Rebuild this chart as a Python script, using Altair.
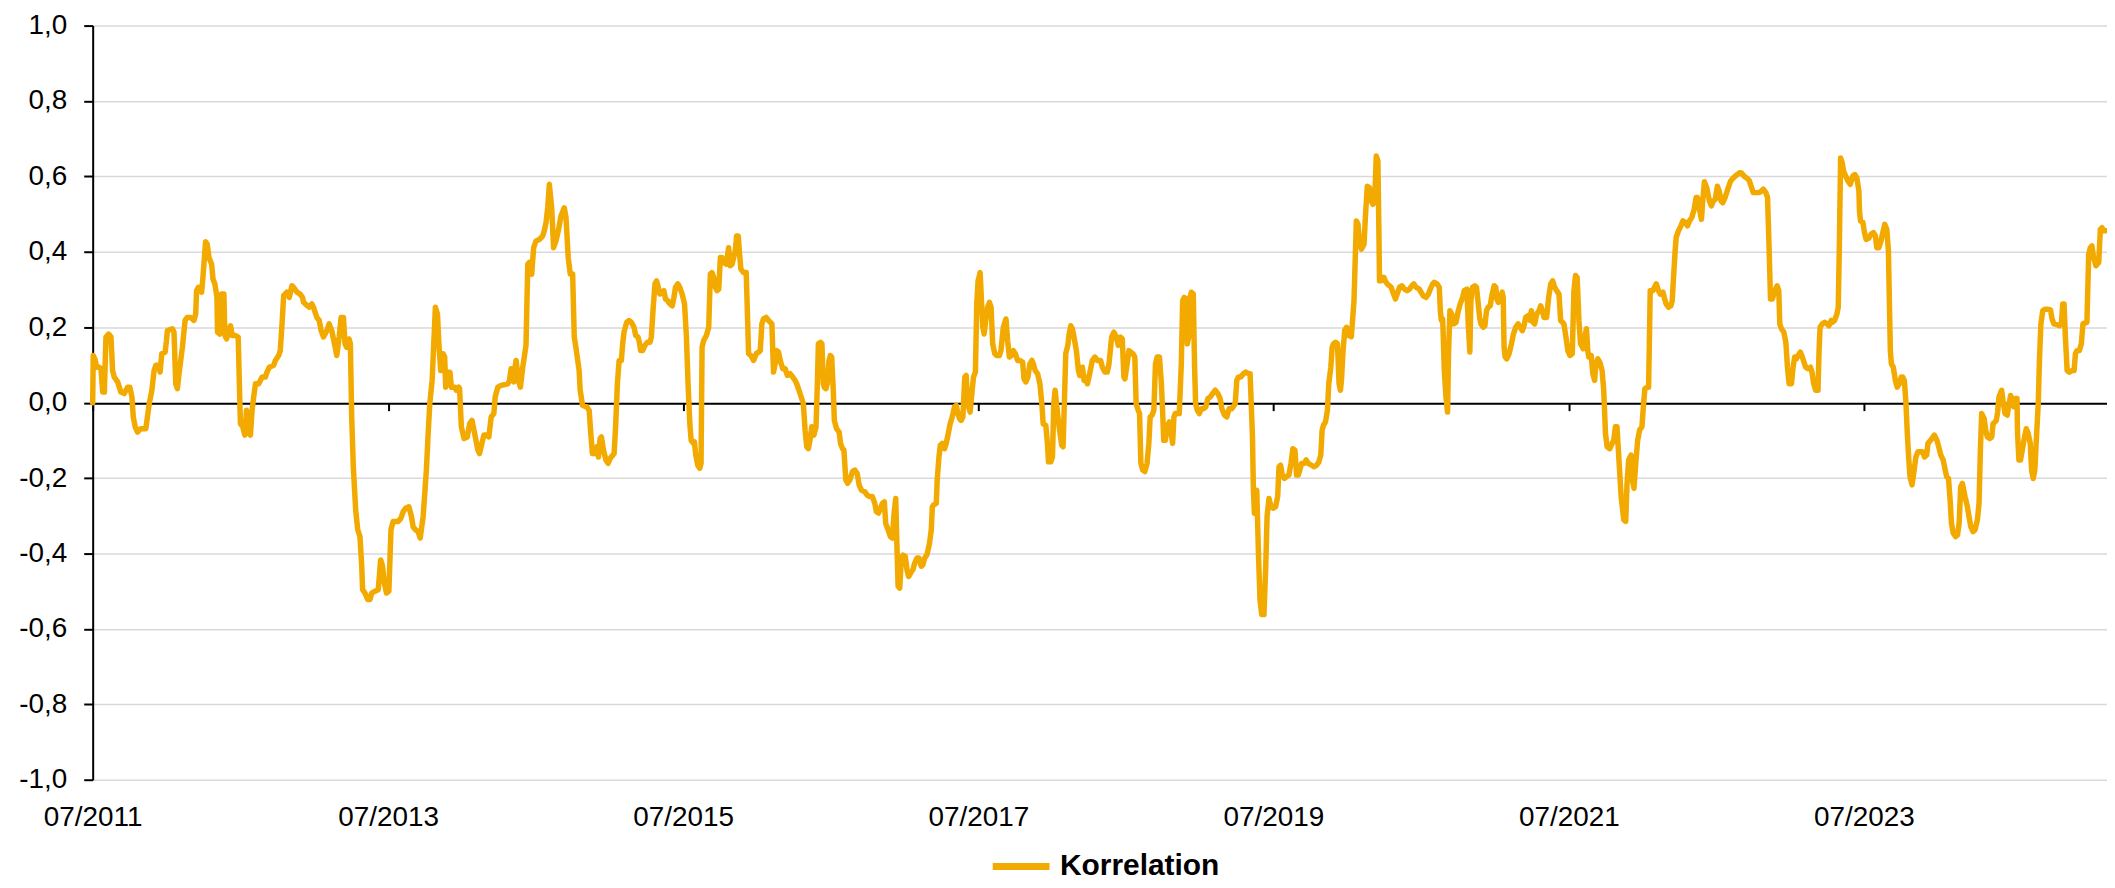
import altair as alt
import pandas as pd

# (decimal year, correlation), one list per period
seg_2011_2013 = [
    (2011.500, 0.000), (2011.504, 0.125), (2011.518, 0.112), (2011.527, 0.094), (2011.545, 0.094),
    (2011.556, 0.090), (2011.568, 0.028), (2011.579, 0.028), (2011.590, 0.174), (2011.608, 0.182),
    (2011.624, 0.174), (2011.635, 0.085), (2011.646, 0.068), (2011.669, 0.055), (2011.691, 0.028),
    (2011.714, 0.024), (2011.736, 0.041), (2011.752, 0.041), (2011.766, 0.015), (2011.775, -0.038),
    (2011.788, -0.064), (2011.804, -0.078), (2011.826, -0.069), (2011.860, -0.069), (2011.871, -0.038),
    (2011.883, -0.003), (2011.901, 0.033), (2011.916, 0.085), (2011.928, 0.099), (2011.946, 0.099),
    (2011.957, 0.081), (2011.968, 0.130), (2011.991, 0.134), (2012.000, 0.165), (2012.006, 0.191),
    (2012.040, 0.196), (2012.051, 0.187), (2012.063, 0.050), (2012.074, 0.037), (2012.085, 0.077),
    (2012.108, 0.147), (2012.126, 0.218), (2012.141, 0.226), (2012.164, 0.226), (2012.186, 0.218),
    (2012.198, 0.235), (2012.204, 0.297), (2012.216, 0.306), (2012.238, 0.293), (2012.247, 0.332),
    (2012.265, 0.427), (2012.276, 0.420), (2012.288, 0.385), (2012.306, 0.367), (2012.315, 0.328),
    (2012.328, 0.315), (2012.342, 0.279), (2012.346, 0.187), (2012.360, 0.182), (2012.373, 0.288),
    (2012.389, 0.288), (2012.396, 0.178), (2012.407, 0.169), (2012.423, 0.191), (2012.434, 0.204),
    (2012.445, 0.178), (2012.468, 0.178), (2012.486, 0.174), (2012.495, 0.033), (2012.501, -0.056),
    (2012.517, -0.064), (2012.531, -0.086), (2012.542, -0.020), (2012.551, -0.038), (2012.562, -0.082),
    (2012.569, -0.086), (2012.580, -0.020), (2012.591, 0.015), (2012.603, 0.050), (2012.625, 0.050),
    (2012.648, 0.068), (2012.670, 0.068), (2012.681, 0.081), (2012.697, 0.094), (2012.726, 0.099),
    (2012.738, 0.112), (2012.760, 0.125), (2012.771, 0.138), (2012.783, 0.209), (2012.794, 0.284),
    (2012.816, 0.293), (2012.832, 0.279), (2012.850, 0.310), (2012.861, 0.306), (2012.884, 0.293),
    (2012.906, 0.288), (2012.922, 0.279), (2012.929, 0.266), (2012.940, 0.262), (2012.967, 0.253),
    (2012.985, 0.262), (2012.996, 0.253), (2013.019, 0.226), (2013.035, 0.218), (2013.048, 0.191),
    (2013.064, 0.174), (2013.086, 0.191), (2013.102, 0.209), (2013.120, 0.191), (2013.143, 0.147),
    (2013.154, 0.125),
]

seg_2013_2014 = [
    (2013.170, 0.174), (2013.183, 0.226), (2013.199, 0.226), (2013.210, 0.156), (2013.221, 0.147),
    (2013.237, 0.169), (2013.246, 0.156), (2013.255, -0.038), (2013.266, -0.170), (2013.282, -0.285),
    (2013.296, -0.337), (2013.311, -0.355), (2013.323, -0.434), (2013.329, -0.496), (2013.345, -0.505),
    (2013.363, -0.522), (2013.379, -0.522), (2013.390, -0.505), (2013.413, -0.500), (2013.435, -0.496),
    (2013.451, -0.417), (2013.464, -0.434), (2013.476, -0.478), (2013.491, -0.505), (2013.507, -0.500),
    (2013.521, -0.337), (2013.536, -0.315), (2013.570, -0.315), (2013.588, -0.307), (2013.604, -0.289),
    (2013.620, -0.280), (2013.642, -0.276), (2013.660, -0.302), (2013.671, -0.329), (2013.687, -0.337),
    (2013.705, -0.342), (2013.719, -0.359), (2013.739, -0.302), (2013.750, -0.241), (2013.761, -0.179),
    (2013.773, -0.082), (2013.784, -0.003), (2013.800, 0.059), (2013.813, 0.174), (2013.822, 0.253),
    (2013.836, 0.235), (2013.847, 0.147), (2013.858, 0.085), (2013.874, 0.130), (2013.885, 0.121),
    (2013.892, 0.041), (2013.908, 0.081), (2013.921, 0.081), (2013.930, 0.041), (2013.953, 0.041),
    (2013.964, 0.033), (2013.980, 0.041), (2013.986, 0.037), (2013.998, -0.064), (2014.016, -0.095),
    (2014.038, -0.091), (2014.054, -0.056), (2014.070, -0.047), (2014.088, -0.082), (2014.110, -0.126),
    (2014.121, -0.135), (2014.137, -0.108), (2014.151, -0.086), (2014.173, -0.086), (2014.184, -0.091),
    (2014.200, -0.038), (2014.218, -0.029), (2014.227, 0.015), (2014.245, 0.041), (2014.268, 0.046),
    (2014.313, 0.050), (2014.324, 0.059), (2014.335, 0.090), (2014.342, 0.081), (2014.353, 0.055),
    (2014.362, 0.094), (2014.369, 0.112), (2014.385, 0.059), (2014.398, 0.041), (2014.414, 0.094),
    (2014.436, 0.152), (2014.448, 0.367), (2014.459, 0.372), (2014.466, 0.350), (2014.475, 0.341),
    (2014.481, 0.376), (2014.488, 0.411), (2014.504, 0.429), (2014.527, 0.433), (2014.549, 0.442),
    (2014.560, 0.456), (2014.572, 0.478), (2014.583, 0.517), (2014.594, 0.579), (2014.610, 0.517),
    (2014.623, 0.411), (2014.639, 0.429), (2014.655, 0.456), (2014.673, 0.495), (2014.695, 0.517),
    (2014.707, 0.491), (2014.722, 0.385), (2014.736, 0.341), (2014.752, 0.341), (2014.763, 0.174),
    (2014.774, 0.147), (2014.796, 0.085), (2014.803, 0.033), (2014.819, -0.007), (2014.842, -0.011),
]

seg_2014_2016 = [
    (2014.848, -0.011), (2014.864, -0.020), (2014.875, -0.082), (2014.886, -0.135), (2014.902, -0.135),
    (2014.916, -0.117), (2014.927, -0.144), (2014.938, -0.095), (2014.947, -0.091), (2014.961, -0.126),
    (2014.977, -0.152), (2014.992, -0.161), (2015.006, -0.148), (2015.033, -0.135), (2015.044, -0.056),
    (2015.055, 0.050), (2015.067, 0.112), (2015.082, 0.112), (2015.091, 0.156), (2015.100, 0.187),
    (2015.118, 0.213), (2015.134, 0.218), (2015.150, 0.213), (2015.168, 0.200), (2015.179, 0.178),
    (2015.195, 0.174), (2015.204, 0.160), (2015.213, 0.138), (2015.226, 0.138), (2015.242, 0.152),
    (2015.258, 0.160), (2015.276, 0.160), (2015.285, 0.174), (2015.298, 0.253), (2015.310, 0.315),
    (2015.321, 0.323), (2015.332, 0.306), (2015.343, 0.288), (2015.359, 0.293), (2015.370, 0.297),
    (2015.381, 0.275), (2015.397, 0.270), (2015.411, 0.262), (2015.427, 0.257), (2015.438, 0.279),
    (2015.449, 0.306), (2015.465, 0.315), (2015.478, 0.306), (2015.494, 0.288), (2015.510, 0.262),
    (2015.523, 0.174), (2015.534, 0.050), (2015.546, -0.056), (2015.555, -0.100), (2015.568, -0.107),
    (2015.577, -0.104), (2015.586, -0.139), (2015.600, -0.166), (2015.613, -0.174), (2015.622, -0.161),
    (2015.629, 0.147), (2015.640, 0.165), (2015.658, 0.178), (2015.674, 0.200), (2015.685, 0.341),
    (2015.696, 0.345), (2015.708, 0.332), (2015.719, 0.306), (2015.730, 0.297), (2015.742, 0.301),
    (2015.753, 0.385), (2015.764, 0.385), (2015.775, 0.372), (2015.793, 0.367), (2015.809, 0.411),
    (2015.820, 0.363), (2015.832, 0.367), (2015.843, 0.385), (2015.854, 0.403), (2015.863, 0.442),
    (2015.874, 0.442), (2015.883, 0.394), (2015.892, 0.354), (2015.910, 0.345), (2015.928, 0.345),
    (2015.937, 0.226), (2015.944, 0.130), (2015.960, 0.125), (2015.978, 0.112), (2015.996, 0.130),
    (2016.012, 0.134), (2016.023, 0.138), (2016.034, 0.209), (2016.045, 0.222), (2016.063, 0.226),
    (2016.079, 0.218), (2016.102, 0.209), (2016.113, 0.081), (2016.124, 0.103), (2016.135, 0.138),
    (2016.147, 0.134), (2016.162, 0.107), (2016.176, 0.090), (2016.192, 0.090), (2016.207, 0.072),
    (2016.225, 0.077), (2016.243, 0.068), (2016.259, 0.059), (2016.270, 0.050), (2016.282, 0.037),
    (2016.297, 0.019), (2016.315, -0.003), (2016.327, -0.073), (2016.338, -0.117), (2016.349, -0.122),
    (2016.360, -0.100), (2016.372, -0.064), (2016.387, -0.086), (2016.401, -0.064), (2016.410, 0.050),
    (2016.417, 0.156), (2016.432, 0.160), (2016.441, 0.156), (2016.450, 0.050), (2016.457, 0.041),
    (2016.468, 0.037), (2016.477, 0.050), (2016.489, 0.112), (2016.498, 0.125), (2016.507, 0.121),
    (2016.518, 0.033), (2016.525, -0.047),
]

seg_2016_2018 = [
    (2016.540, -0.069), (2016.558, -0.078), (2016.567, -0.108), (2016.581, -0.122), (2016.590, -0.126),
    (2016.603, -0.205), (2016.615, -0.214), (2016.630, -0.205), (2016.648, -0.183), (2016.664, -0.179),
    (2016.680, -0.188), (2016.693, -0.218), (2016.709, -0.232), (2016.732, -0.236), (2016.747, -0.245),
    (2016.765, -0.249), (2016.783, -0.249), (2016.799, -0.267), (2016.810, -0.289), (2016.824, -0.293),
    (2016.837, -0.280), (2016.851, -0.267), (2016.864, -0.263), (2016.873, -0.320), (2016.889, -0.337),
    (2016.905, -0.355), (2016.918, -0.359), (2016.930, -0.293), (2016.941, -0.254), (2016.950, -0.390),
    (2016.957, -0.487), (2016.968, -0.492), (2016.979, -0.417), (2016.990, -0.404), (2017.006, -0.408),
    (2017.017, -0.443), (2017.029, -0.461), (2017.047, -0.448), (2017.058, -0.443), (2017.069, -0.426),
    (2017.085, -0.412), (2017.098, -0.412), (2017.114, -0.434), (2017.125, -0.430), (2017.137, -0.412),
    (2017.152, -0.404), (2017.170, -0.373), (2017.182, -0.337), (2017.189, -0.276), (2017.198, -0.271),
    (2017.216, -0.267), (2017.222, -0.205), (2017.234, -0.144), (2017.243, -0.113), (2017.256, -0.108),
    (2017.272, -0.122), (2017.283, -0.108), (2017.297, -0.082), (2017.310, -0.056), (2017.324, -0.038),
    (2017.339, -0.011), (2017.351, -0.007), (2017.362, -0.029), (2017.373, -0.042), (2017.384, -0.047),
    (2017.396, -0.038), (2017.409, 0.068), (2017.418, 0.072), (2017.429, -0.003), (2017.445, -0.025),
    (2017.459, 0.033), (2017.468, 0.068), (2017.481, 0.081), (2017.490, 0.262), (2017.499, 0.323),
    (2017.513, 0.345), (2017.522, 0.270), (2017.531, 0.200), (2017.540, 0.182), (2017.553, 0.226),
    (2017.564, 0.253), (2017.576, 0.266), (2017.587, 0.253), (2017.598, 0.156), (2017.612, 0.130),
    (2017.625, 0.125), (2017.643, 0.125), (2017.654, 0.138), (2017.670, 0.200), (2017.688, 0.222),
    (2017.699, 0.165), (2017.711, 0.121), (2017.724, 0.125), (2017.738, 0.138), (2017.751, 0.130),
    (2017.767, 0.112), (2017.783, 0.112), (2017.801, 0.107), (2017.810, 0.063), (2017.823, 0.055),
    (2017.837, 0.068), (2017.850, 0.103), (2017.864, 0.112), (2017.873, 0.103), (2017.886, 0.085),
    (2017.902, 0.077), (2017.918, 0.050), (2017.931, -0.003), (2017.940, -0.056), (2017.958, -0.060),
    (2017.969, -0.108), (2017.976, -0.157), (2017.992, -0.157), (2018.003, -0.144), (2018.012, -0.003),
    (2018.021, 0.033), (2018.030, -0.003), (2018.048, -0.064), (2018.066, -0.113), (2018.075, -0.117),
    (2018.084, 0.006), (2018.093, 0.130), (2018.107, 0.152), (2018.116, 0.182), (2018.127, 0.204),
    (2018.138, 0.196), (2018.149, 0.174), (2018.165, 0.138), (2018.179, 0.085), (2018.188, 0.072),
    (2018.206, 0.094), (2018.217, 0.059),
]

seg_2018_2019 = [
    (2018.224, 0.068), (2018.240, 0.050), (2018.255, 0.077), (2018.273, 0.112), (2018.291, 0.121),
    (2018.307, 0.112), (2018.329, 0.112), (2018.341, 0.094), (2018.359, 0.081), (2018.374, 0.081),
    (2018.386, 0.103), (2018.404, 0.174), (2018.419, 0.187), (2018.435, 0.174), (2018.449, 0.152),
    (2018.464, 0.174), (2018.476, 0.169), (2018.487, 0.068), (2018.494, 0.063), (2018.509, 0.103),
    (2018.521, 0.138), (2018.532, 0.134), (2018.548, 0.130), (2018.561, 0.121), (2018.570, -0.003),
    (2018.584, -0.020), (2018.593, -0.029), (2018.602, -0.161), (2018.615, -0.179), (2018.629, -0.183),
    (2018.644, -0.161), (2018.656, -0.108), (2018.665, -0.038), (2018.678, -0.033), (2018.690, -0.020),
    (2018.701, 0.103), (2018.712, 0.121), (2018.728, 0.121), (2018.741, 0.050), (2018.750, -0.029),
    (2018.757, -0.100), (2018.768, -0.100), (2018.779, -0.064), (2018.795, -0.051), (2018.808, -0.082),
    (2018.817, -0.108), (2018.826, -0.038), (2018.835, -0.029), (2018.862, -0.029), (2018.876, 0.103),
    (2018.885, 0.270), (2018.896, 0.279), (2018.908, 0.275), (2018.917, 0.156), (2018.926, 0.174),
    (2018.935, 0.279), (2018.944, 0.293), (2018.957, 0.288), (2018.966, 0.094), (2018.973, -0.003),
    (2018.984, -0.020), (2018.998, -0.029), (2019.011, -0.016), (2019.027, -0.016), (2019.042, -0.011),
    (2019.056, 0.011), (2019.072, 0.015), (2019.088, 0.024), (2019.106, 0.033), (2019.124, 0.024),
    (2019.139, 0.011), (2019.151, -0.016), (2019.169, -0.033), (2019.184, -0.038), (2019.200, -0.016),
    (2019.218, -0.016), (2019.241, -0.003), (2019.252, 0.059), (2019.263, 0.068), (2019.279, 0.068),
    (2019.297, 0.077), (2019.313, 0.081), (2019.331, 0.077), (2019.342, 0.077), (2019.349, 0.006),
    (2019.358, -0.091), (2019.364, -0.223), (2019.371, -0.293), (2019.380, -0.293), (2019.387, -0.232),
    (2019.398, -0.390), (2019.409, -0.522), (2019.421, -0.562), (2019.436, -0.562), (2019.448, -0.434),
    (2019.457, -0.302), (2019.470, -0.254), (2019.484, -0.276), (2019.499, -0.280), (2019.515, -0.276),
    (2019.529, -0.249), (2019.538, -0.170), (2019.549, -0.166), (2019.560, -0.192), (2019.574, -0.201),
    (2019.589, -0.196), (2019.605, -0.192), (2019.619, -0.161), (2019.632, -0.122), (2019.646, -0.126),
    (2019.657, -0.192), (2019.668, -0.192), (2019.679, -0.179), (2019.691, -0.161), (2019.709, -0.161),
    (2019.722, -0.152), (2019.736, -0.161), (2019.758, -0.166), (2019.776, -0.170), (2019.792, -0.166),
    (2019.808, -0.157), (2019.821, -0.139), (2019.830, -0.073), (2019.839, -0.060), (2019.853, -0.051),
    (2019.866, -0.020), (2019.875, 0.050), (2019.889, 0.094), (2019.898, 0.147), (2019.907, 0.156),
]

seg_2019_2021 = [
    (2019.920, 0.160), (2019.934, 0.156), (2019.945, 0.050), (2019.954, 0.033), (2019.961, 0.059),
    (2019.972, 0.138), (2019.983, 0.191), (2019.995, 0.200), (2020.010, 0.178), (2020.028, 0.175),
    (2020.046, 0.270), (2020.062, 0.482), (2020.073, 0.473), (2020.085, 0.420), (2020.096, 0.407),
    (2020.114, 0.420), (2020.123, 0.491), (2020.136, 0.574), (2020.152, 0.570), (2020.163, 0.535),
    (2020.174, 0.526), (2020.186, 0.535), (2020.197, 0.654), (2020.208, 0.641), (2020.215, 0.447),
    (2020.219, 0.323), (2020.231, 0.323), (2020.249, 0.332), (2020.258, 0.323), (2020.271, 0.315),
    (2020.287, 0.310), (2020.298, 0.306), (2020.314, 0.288), (2020.327, 0.275), (2020.343, 0.293),
    (2020.354, 0.306), (2020.370, 0.310), (2020.388, 0.301), (2020.406, 0.297), (2020.422, 0.301),
    (2020.438, 0.310), (2020.451, 0.315), (2020.467, 0.306), (2020.489, 0.301), (2020.500, 0.293),
    (2020.514, 0.284), (2020.534, 0.279), (2020.550, 0.288), (2020.563, 0.301), (2020.579, 0.315),
    (2020.590, 0.319), (2020.608, 0.315), (2020.624, 0.306), (2020.631, 0.244), (2020.638, 0.218),
    (2020.647, 0.222), (2020.658, 0.085), (2020.669, 0.015), (2020.680, -0.025), (2020.687, 0.138),
    (2020.696, 0.244), (2020.708, 0.235), (2020.721, 0.209), (2020.737, 0.213), (2020.753, 0.244),
    (2020.766, 0.262), (2020.782, 0.279), (2020.793, 0.297), (2020.811, 0.301), (2020.820, 0.209),
    (2020.831, 0.134), (2020.838, 0.270), (2020.849, 0.306), (2020.865, 0.310), (2020.876, 0.306),
    (2020.888, 0.262), (2020.897, 0.226), (2020.906, 0.209), (2020.922, 0.200), (2020.933, 0.204),
    (2020.944, 0.244), (2020.955, 0.253), (2020.969, 0.257), (2020.982, 0.288), (2020.996, 0.310),
    (2021.007, 0.306), (2021.014, 0.275), (2021.023, 0.266), (2021.036, 0.275), (2021.050, 0.293),
    (2021.057, 0.279), (2021.063, 0.147), (2021.070, 0.121), (2021.081, 0.116), (2021.097, 0.130),
    (2021.113, 0.156), (2021.126, 0.182), (2021.142, 0.200), (2021.158, 0.209), (2021.171, 0.200),
    (2021.187, 0.191), (2021.198, 0.204), (2021.209, 0.226), (2021.225, 0.231), (2021.239, 0.218),
    (2021.248, 0.244), (2021.261, 0.213), (2021.270, 0.209), (2021.284, 0.235), (2021.300, 0.244),
    (2021.311, 0.257), (2021.322, 0.244), (2021.333, 0.226), (2021.351, 0.226), (2021.365, 0.279),
    (2021.379, 0.315), (2021.392, 0.323), (2021.405, 0.306), (2021.419, 0.297), (2021.435, 0.288),
    (2021.446, 0.218), (2021.459, 0.213), (2021.468, 0.209), (2021.482, 0.174), (2021.495, 0.138),
    (2021.509, 0.125), (2021.525, 0.130), (2021.536, 0.297), (2021.547, 0.337), (2021.558, 0.332),
    (2021.570, 0.218), (2021.581, 0.156), (2021.594, 0.147),
]

seg_2021_2023 = [
    (2021.599, 0.143), (2021.610, 0.174), (2021.621, 0.196), (2021.630, 0.138), (2021.637, 0.121),
    (2021.653, 0.125), (2021.664, 0.077), (2021.676, 0.059), (2021.685, 0.103), (2021.698, 0.116),
    (2021.712, 0.107), (2021.727, 0.085), (2021.738, 0.033), (2021.750, -0.082), (2021.761, -0.117),
    (2021.779, -0.122), (2021.795, -0.108), (2021.806, -0.100), (2021.817, -0.064), (2021.828, -0.064),
    (2021.840, -0.144), (2021.856, -0.249), (2021.874, -0.311), (2021.887, -0.315), (2021.896, -0.214),
    (2021.907, -0.152), (2021.923, -0.139), (2021.932, -0.205), (2021.943, -0.227), (2021.955, -0.161),
    (2021.968, -0.100), (2021.981, -0.073), (2021.997, -0.064), (2022.008, -0.003), (2022.017, 0.037),
    (2022.035, 0.041), (2022.042, 0.041), (2022.049, 0.200), (2022.053, 0.297), (2022.071, 0.297),
    (2022.082, 0.306), (2022.094, 0.315), (2022.109, 0.297), (2022.121, 0.288), (2022.139, 0.293),
    (2022.148, 0.279), (2022.161, 0.262), (2022.177, 0.253), (2022.193, 0.257), (2022.202, 0.270),
    (2022.211, 0.332), (2022.222, 0.403), (2022.229, 0.438), (2022.245, 0.456), (2022.261, 0.469),
    (2022.274, 0.482), (2022.290, 0.478), (2022.306, 0.469), (2022.319, 0.482), (2022.335, 0.491),
    (2022.351, 0.513), (2022.364, 0.544), (2022.373, 0.544), (2022.387, 0.513), (2022.400, 0.486),
    (2022.409, 0.535), (2022.420, 0.586), (2022.436, 0.570), (2022.454, 0.535), (2022.467, 0.522),
    (2022.481, 0.535), (2022.494, 0.539), (2022.508, 0.574), (2022.521, 0.561), (2022.533, 0.535),
    (2022.544, 0.530), (2022.560, 0.544), (2022.571, 0.557), (2022.582, 0.570), (2022.598, 0.588),
    (2022.616, 0.596), (2022.638, 0.604), (2022.661, 0.610), (2022.674, 0.608), (2022.688, 0.601),
    (2022.706, 0.596), (2022.724, 0.589), (2022.740, 0.570), (2022.751, 0.557), (2022.769, 0.557),
    (2022.785, 0.557), (2022.801, 0.559), (2022.819, 0.566), (2022.837, 0.557), (2022.848, 0.544),
    (2022.859, 0.403), (2022.868, 0.275), (2022.881, 0.275), (2022.897, 0.297), (2022.913, 0.310),
    (2022.924, 0.297), (2022.931, 0.209), (2022.942, 0.196), (2022.958, 0.187), (2022.972, 0.160),
    (2022.983, 0.094), (2022.994, 0.050), (2023.010, 0.050), (2023.021, 0.094), (2023.032, 0.121),
    (2023.043, 0.116), (2023.055, 0.125), (2023.070, 0.134), (2023.084, 0.121), (2023.095, 0.107),
    (2023.106, 0.094), (2023.122, 0.090), (2023.138, 0.094), (2023.149, 0.081), (2023.161, 0.050),
    (2023.174, 0.033), (2023.190, 0.033), (2023.197, 0.138), (2023.204, 0.200), (2023.219, 0.209),
    (2023.235, 0.213), (2023.251, 0.209), (2023.264, 0.204), (2023.280, 0.218),
]

seg_2023_2025 = [
    (2023.287, 0.213), (2023.302, 0.218), (2023.318, 0.235), (2023.327, 0.253), (2023.334, 0.403),
    (2023.343, 0.649), (2023.354, 0.636), (2023.363, 0.614), (2023.377, 0.601), (2023.393, 0.588),
    (2023.408, 0.579), (2023.426, 0.601), (2023.440, 0.605), (2023.453, 0.596), (2023.467, 0.561),
    (2023.471, 0.508), (2023.478, 0.482), (2023.494, 0.478), (2023.505, 0.451), (2023.516, 0.433),
    (2023.534, 0.436), (2023.550, 0.447), (2023.566, 0.451), (2023.579, 0.442), (2023.588, 0.411),
    (2023.602, 0.411), (2023.617, 0.429), (2023.629, 0.451), (2023.642, 0.473), (2023.656, 0.460),
    (2023.667, 0.403), (2023.673, 0.279), (2023.680, 0.138), (2023.687, 0.103), (2023.700, 0.094),
    (2023.714, 0.059), (2023.727, 0.041), (2023.741, 0.050), (2023.754, 0.068), (2023.763, 0.068),
    (2023.775, 0.059), (2023.786, -0.003), (2023.795, -0.082), (2023.804, -0.144), (2023.813, -0.196),
    (2023.827, -0.218), (2023.838, -0.188), (2023.853, -0.144), (2023.867, -0.130), (2023.883, -0.130),
    (2023.898, -0.130), (2023.912, -0.144), (2023.926, -0.139), (2023.935, -0.108), (2023.944, -0.104),
    (2023.962, -0.095), (2023.978, -0.086), (2023.996, -0.100), (2024.011, -0.122), (2024.022, -0.139),
    (2024.038, -0.152), (2024.052, -0.179), (2024.061, -0.196), (2024.074, -0.201), (2024.085, -0.258),
    (2024.094, -0.320), (2024.106, -0.346), (2024.123, -0.355), (2024.135, -0.351), (2024.146, -0.320),
    (2024.157, -0.223), (2024.168, -0.214), (2024.186, -0.249), (2024.202, -0.276), (2024.213, -0.302),
    (2024.225, -0.329), (2024.240, -0.342), (2024.254, -0.337), (2024.270, -0.311), (2024.281, -0.267),
    (2024.290, -0.126), (2024.299, -0.029), (2024.315, -0.042), (2024.326, -0.073), (2024.337, -0.091),
    (2024.353, -0.095), (2024.367, -0.091), (2024.376, -0.056), (2024.389, -0.051), (2024.398, -0.047),
    (2024.407, -0.025), (2024.416, 0.015), (2024.434, 0.033), (2024.443, 0.006), (2024.457, -0.029),
    (2024.472, -0.033), (2024.484, -0.003), (2024.495, 0.019), (2024.506, 0.006), (2024.517, -0.011),
    (2024.529, 0.011), (2024.538, 0.011), (2024.542, -0.082), (2024.551, -0.152), (2024.562, -0.152),
    (2024.574, -0.126), (2024.585, -0.100), (2024.601, -0.069), (2024.614, -0.082), (2024.628, -0.108),
    (2024.637, -0.179), (2024.648, -0.201), (2024.659, -0.179), (2024.668, -0.108), (2024.682, -0.003),
    (2024.691, 0.121), (2024.700, 0.209), (2024.713, 0.244), (2024.727, 0.248), (2024.743, 0.248),
    (2024.765, 0.246), (2024.776, 0.222), (2024.788, 0.209), (2024.810, 0.207), (2024.826, 0.204),
    (2024.839, 0.209), (2024.848, 0.262), (2024.857, 0.262), (2024.866, 0.174), (2024.878, 0.085),
    (2024.893, 0.081), (2024.911, 0.085), (2024.925, 0.085), (2024.934, 0.130), (2024.945, 0.138),
    (2024.961, 0.138), (2024.974, 0.156), (2024.985, 0.209), (2024.997, 0.211), (2025.012, 0.213),
    (2025.024, 0.394), (2025.035, 0.411), (2025.046, 0.416), (2025.057, 0.385), (2025.073, 0.363),
    (2025.092, 0.372), (2025.103, 0.460), (2025.114, 0.464), (2025.125, 0.456), (2025.141, 0.456),
]

series_name = "Korrelation"
line_color = "#F2A900"
y_ticks = [-1.0, -0.8, -0.6, -0.4, -0.2, 0.0, 0.2, 0.4, 0.6, 0.8, 1.0]
x_tick_years = [2011, 2013, 2015, 2017, 2019, 2021, 2023]
x_start_year = 2011.5
x_end_year = 2025.148

START = pd.Timestamp("2011-07-01")


def to_ts(y):
    return START + pd.Timedelta(days=(y - x_start_year) * 365.25)


def to_dt(ts):
    return alt.DateTime(year=ts.year, month=ts.month, date=ts.day, hours=ts.hour)


rows = []
for seg in [seg_2011_2013, seg_2013_2014, seg_2014_2016, seg_2016_2018,
            seg_2018_2019, seg_2019_2021, seg_2021_2023, seg_2023_2025]:
    for yr, val in seg:
        rows.append({"date": to_ts(yr).strftime("%Y-%m-%dT%H:%M:%S"), "value": val, "series": series_name})
df = pd.DataFrame(rows)

FONT = "Liberation Sans"
W, H = 2022, 757

x_axis = alt.Axis(
    values=[alt.DateTime(year=y, month=7, date=1) for y in x_tick_years],
    format="%m/%Y", formatType="time", title=None,
    domain=False, grid=False,
    ticks=True, tickSize=8, tickColor="black", tickWidth=2,
    offset=-H / 2, labelPadding=H / 2 + 16,
    labelFont=FONT, labelFontSize=28, labelColor="black",
    labelFlush=False, labelOverlap=False, labelBound=False, labelAngle=0,
)

y_axis = alt.Axis(
    values=y_ticks, title=None,
    labelExpr="replace(replace(format(datum.value, '.1f'), '.', ','), '\u2212', '-')",
    domain=True, domainColor="black", domainWidth=2,
    ticks=True, tickSize=9, tickColor="black", tickWidth=2,
    grid=True,
    gridColor={"condition": {"test": "datum.value === 0", "value": "black"}, "value": "#d9d9d9"},
    gridWidth={"condition": {"test": "datum.value === 0", "value": 2}, "value": 1.5},
    labelFont=FONT, labelFontSize=28, labelColor="black", labelPadding=17,
)

chart = alt.Chart(df).mark_line(strokeWidth=5.5, strokeJoin="round", strokeCap="round").encode(
    x=alt.X("date:T", scale=alt.Scale(domain=[to_dt(to_ts(x_start_year)), to_dt(to_ts(x_end_year))]), axis=x_axis),
    y=alt.Y("value:Q", scale=alt.Scale(domain=[-1, 1], nice=False, zero=False), axis=y_axis),
    color=alt.Color(
        "series:N",
        scale=alt.Scale(domain=[series_name], range=[line_color]),
        legend=alt.Legend(
            orient="none", legendX=900, legendY=812, title=None,
            symbolType="stroke", symbolStrokeWidth=7, symbolSize=3249,
            symbolStrokeColor=line_color,
            labelFont=FONT, labelFontSize=30, labelFontWeight="bold", labelColor="black",
            labelOffset=7, labelLimit=500, padding=0,
        ),
    ),
).properties(
    width=W, height=H,
    autosize=alt.AutoSizeParams(type="none"),
    padding={"left": 85, "top": 16, "right": 0, "bottom": 99},
).configure_view(stroke=None)

chart.save("out.html", embed_options={"renderer": "svg", "actions": False})
